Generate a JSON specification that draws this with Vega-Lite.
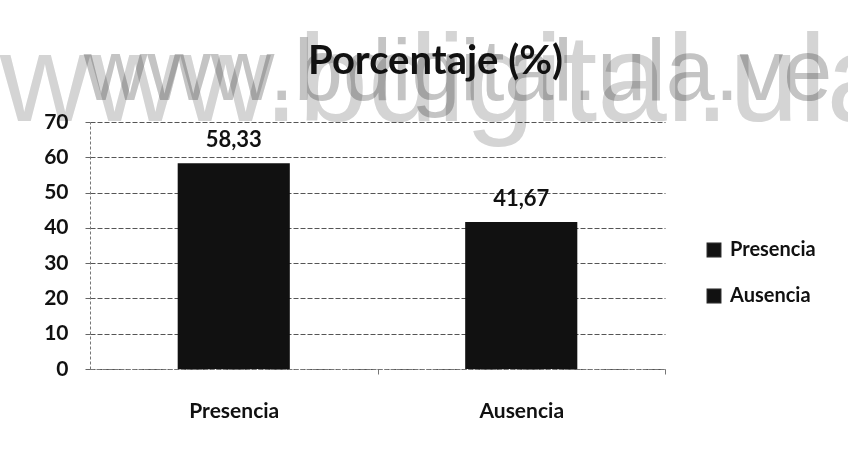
{
  "$schema": "https://vega.github.io/schema/vega-lite/v6.json",
  "width": 575,
  "height": 247,
  "autosize": {"type": "none"},
  "padding": {"left": 90, "top": 122, "right": 183, "bottom": 80},
  "background": "white",
  "title": {
    "text": "Porcentaje (%)",
    "font": "Lato",
    "fontSize": 40,
    "fontWeight": "bold",
    "color": "#111111",
    "anchor": "middle",
    "frame": "group",
    "baseline": "alphabetic",
    "dx": 58,
    "offset": -93,
    "zindex": 2
  },
  "datasets": {
    "bars": [
      {"categoria": "Presencia", "porcentaje": 58.33},
      {"categoria": "Ausencia", "porcentaje": 41.67}
    ],
    "marca": [
      {"texto": "www.bdigital.ula.ve"}
    ]
  },
  "resolve": {"axis": {"x": "independent", "y": "independent"}},
  "layer": [
    {
      "data": {"name": "bars"},
      "mark": {"type": "bar", "color": "#111111"},
      "encoding": {
        "x": {
          "field": "categoria",
          "type": "nominal",
          "sort": ["Presencia", "Ausencia"],
          "scale": {"paddingInner": 0.61, "paddingOuter": 0.305},
          "axis": {
            "title": null,
            "labelAngle": 0,
            "labelFont": "Lato",
            "labelFontSize": 21,
            "labelFontWeight": "bold",
            "labelColor": "#111111",
            "labelPadding": 26,
            "tickOffset": 143.75,
            "labelOffset": -143.75,
            "tickSize": 5,
            "tickColor": "#777777",
            "domainColor": "#777777",
            "domainDash": [4, 2],
            "grid": false
          }
        },
        "y": {
          "field": "porcentaje",
          "type": "quantitative",
          "scale": {"domain": [0, 70], "nice": false},
          "axis": {
            "title": null,
            "values": [0, 10, 20, 30, 40, 50, 60, 70],
            "labelOverlap": false,
            "labelFlush": false,
            "labelFont": "Lato",
            "labelFontSize": 21,
            "labelFontWeight": "bold",
            "labelColor": "#111111",
            "labelPadding": 17,
            "tickSize": 5,
            "tickColor": "#666666",
            "domainColor": "#777777",
            "domainDash": [3, 2],
            "grid": true,
            "gridColor": "#555555",
            "gridDash": [5, 2],
            "gridWidth": 1
          }
        },
        "fill": {
          "field": "categoria",
          "type": "nominal",
          "sort": ["Presencia", "Ausencia"],
          "scale": {"range": ["#111111", "#111111"]},
          "legend": {
            "title": null,
            "orient": "none",
            "legendX": 614,
            "legendY": 118,
            "symbolType": "square",
            "symbolSize": 180,
            "symbolFillColor": "#222222",
            "symbolStrokeColor": "#222222",
            "labelFont": "Lato",
            "labelFontSize": 20,
            "labelFontWeight": "bold",
            "labelColor": "#111111",
            "labelOffset": 6,
            "rowPadding": 26
          }
        }
      }
    },
    {
      "data": {"name": "bars"},
      "mark": {"type": "text", "baseline": "alphabetic", "dy": -16, "font": "Lato", "fontSize": 22, "fontWeight": "bold", "color": "#111111"},
      "encoding": {
        "x": {"field": "categoria", "type": "nominal", "sort": ["Presencia", "Ausencia"], "axis": null},
        "y": {"field": "porcentaje", "type": "quantitative", "axis": null},
        "text": {"field": "porcentaje", "type": "quantitative", "format": ".2f"}
      }
    },
    {
      "data": {"name": "marca"},
      "mark": {"type": "text", "align": "left", "baseline": "alphabetic", "font": "Liberation Sans", "fontSize": 125, "fill": "#d4d4d4", "blend": "multiply", "dx": -234},
      "encoding": {
        "x": {"datum": "Presencia", "type": "nominal", "axis": null},
        "y": {"datum": 70.3, "type": "quantitative", "axis": null},
        "text": {"field": "texto"}
      }
    },
    {
      "data": {"name": "marca"},
      "mark": {"type": "text", "align": "left", "baseline": "alphabetic", "font": "Liberation Sans", "fontSize": 88, "fill": "#c4c4c4", "blend": "multiply", "dx": -150},
      "encoding": {
        "x": {"datum": "Presencia", "type": "nominal", "axis": null},
        "y": {"datum": 76.2, "type": "quantitative", "axis": null},
        "text": {"field": "texto"}
      }
    }
  ],
  "config": {
    "view": {"stroke": null},
    "locale": {
      "number": {"decimal": ",", "thousands": ".", "grouping": [3], "currency": ["", " €"]}
    }
  }
}
